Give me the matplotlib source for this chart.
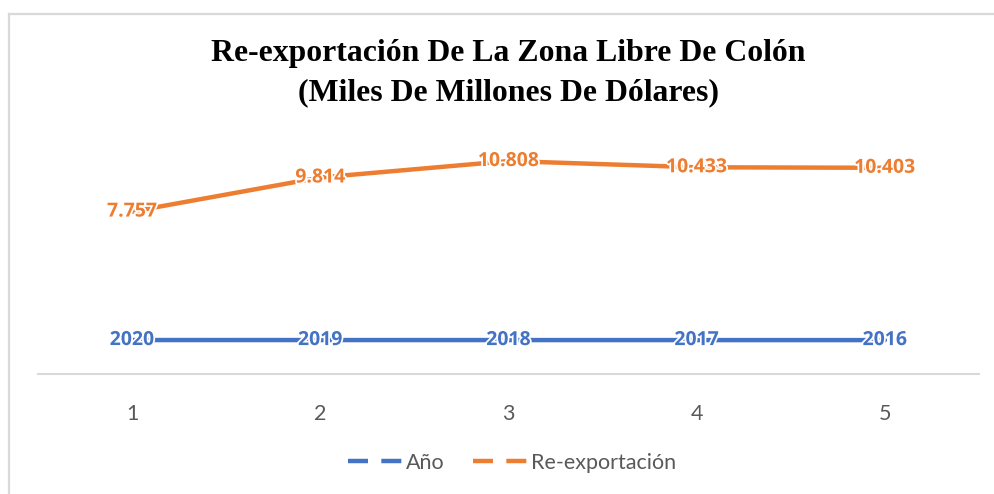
import matplotlib.pyplot as plt
import matplotlib.patheffects as pe
from matplotlib.lines import Line2D

categorias = [1, 2, 3, 4, 5]
anio = [2020, 2019, 2018, 2017, 2016]
reexp = [7757, 9814, 10808, 10433, 10403]
reexp_labels = ["7.757", "9.814", "10.808", "10.433", "10.403"]

blue = "#4472C4"
orange = "#ED7D31"
gray = "#595959"
border = "#D9D9D9"

# excel stacked line: second series sits on top of the first
stacked = [a + r for a, r in zip(anio, reexp)]

W, H = 995, 494
fig = plt.figure(figsize=(W / 100, H / 100), dpi=100)
ax = fig.add_axes([38 / W, (H - 373.5) / H, 941 / W, (373.5 - 141.6) / H])

ax.plot(categorias, anio, color=blue, lw=3.2, solid_capstyle="round", zorder=2)
ax.plot(categorias, stacked, color=orange, lw=3.2, solid_capstyle="round", zorder=2)

halo = [pe.withStroke(linewidth=2.5, foreground="white")]
for x, y, t in zip(categorias, anio, anio):
    ax.text(x, y, str(t), color=blue, fontsize=14, fontweight="bold",
            family="Open Sans", ha="center", va="center", zorder=5,
            path_effects=halo)
for x, y, t in zip(categorias, stacked, reexp_labels):
    ax.text(x, y, t, color=orange, fontsize=14, fontweight="bold",
            family="Open Sans", ha="center", va="center", zorder=5,
            path_effects=halo)

ax.set_xlim(0.5, 5.5)
ax.set_ylim(0, 14000)
ax.set_yticks([])
ax.set_xticks(categorias)
ax.set_xticklabels([str(c) for c in categorias], family="Lato", fontsize=15.5, color=gray)
ax.tick_params(axis="x", length=0, pad=22)
for s in ["top", "left", "right"]:
    ax.spines[s].set_visible(False)
ax.spines["bottom"].set_color(border)
ax.spines["bottom"].set_linewidth(1.5)

fig.text(508.5 / W, 1 - 53 / H, "Re-exportación De La Zona Libre De Colón",
         family="Liberation Serif", fontweight="bold", fontsize=22.9,
         ha="center", va="center")
fig.text(508.5 / W, 1 - 93 / H, "(Miles De Millones De Dólares)",
         family="Liberation Serif", fontweight="bold", fontsize=22.9,
         ha="center", va="center")

handles = [Line2D([], [], color=blue, lw=3.2, dashes=(4.5, 3)),
           Line2D([], [], color=orange, lw=3.2, dashes=(4.5, 3))]
leg = fig.legend(handles, ["Año", "Re-exportación"], loc="center",
                 bbox_to_anchor=(512 / W, 1 - 463 / H), ncol=2, frameon=False,
                 prop={"family": "Lato", "size": 15.5}, handlelength=2.5,
                 handletextpad=0.2, columnspacing=1.3)
for t in leg.get_texts():
    t.set_color(gray)

# chart area border (only top and left visible in the crop)
fig.add_artist(Line2D([8.5 / W, 8.5 / W], [0, 1 - 14 / H], color=border, lw=1.6,
                      transform=fig.transFigure))
fig.add_artist(Line2D([8.5 / W, 1], [1 - 14 / H, 1 - 14 / H], color=border, lw=1.6,
                      transform=fig.transFigure))

fig.savefig("out.png", dpi=100)
